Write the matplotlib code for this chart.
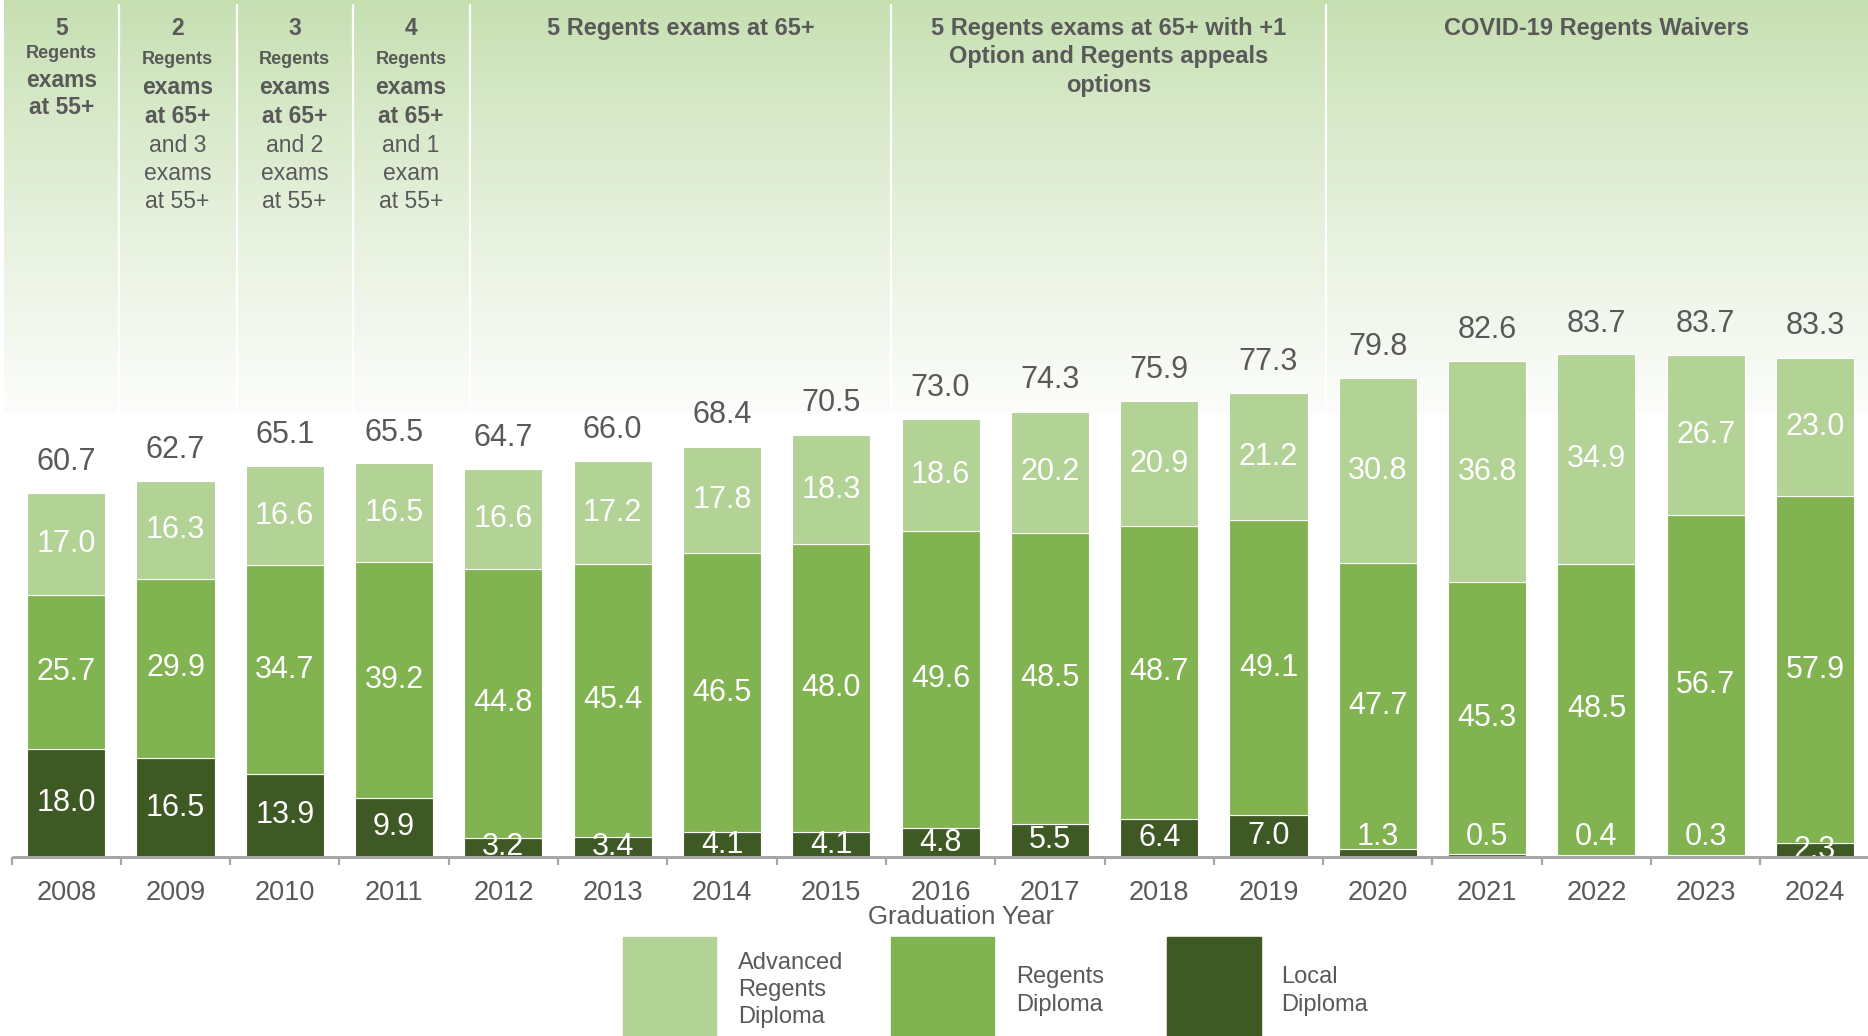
import numpy as np
import matplotlib.pyplot as plt
from matplotlib.patches import Rectangle
from matplotlib.colors import to_rgb

plt.rcParams["font.family"] = ["Liberation Sans", "DejaVu Sans"]

years = ["2008", "2009", "2010", "2011", "2012", "2013", "2014", "2015", "2016",
         "2017", "2018", "2019", "2020", "2021", "2022", "2023", "2024"]
local = [18.0, 16.5, 13.9, 9.9, 3.2, 3.4, 4.1, 4.1, 4.8, 5.5, 6.4, 7.0, 1.3, 0.5, 0.4, 0.3, 2.3]
regents = [25.7, 29.9, 34.7, 39.2, 44.8, 45.4, 46.5, 48.0, 49.6, 48.5, 48.7, 49.1, 47.7, 45.3, 48.5, 56.7, 57.9]
advanced = [17.0, 16.3, 16.6, 16.5, 16.6, 17.2, 17.8, 18.3, 18.6, 20.2, 20.9, 21.2, 30.8, 36.8, 34.9, 26.7, 23.0]
totals = [60.7, 62.7, 65.1, 65.5, 64.7, 66.0, 68.4, 70.5, 73.0, 74.3, 75.9, 77.3, 79.8, 82.6, 83.7, 83.7, 83.3]

series_names = ["Advanced\nRegents\nDiploma", "Regents\nDiploma", "Local\nDiploma"]

# requirement periods: (bold lines, regular lines)
small_headers = [
    (["5", "Regents", "exams", "at 55+"], []),
    (["2", "Regents", "exams", "at 65+"], ["and 3", "exams", "at 55+"]),
    (["3", "Regents", "exams", "at 65+"], ["and 2", "exams", "at 55+"]),
    (["4", "Regents", "exams", "at 65+"], ["and 1", "exam", "at 55+"]),
]
big_headers = [
    "5 Regents exams at 65+",
    "5 Regents exams at 65+ with +1\nOption and Regents appeals\noptions",
    "COVID-19 Regents Waivers",
]

C_ADV = "#b3d296"
C_REG = "#81b351"
C_LOC = "#3f5924"
GRAY = "#595959"

W, H = 1868, 1036
BASE = 857      # baseline, pixels from top
PPU = 6.0       # pixels per percent


def ypx(p):
    return (BASE - p) / PPU


fig = plt.figure(figsize=(W / 100, H / 100), dpi=100)
ax = fig.add_axes([0, (H - BASE) / H, 1, BASE / H])
for s in ax.spines.values():
    s.set_visible(False)
ax.set_yticks([])

# gradient panels behind the bars
edges = [-0.57, 0.48, 1.56, 2.62, 3.69, 7.55, 11.53, 16.48]
top_c = np.array(to_rgb("#c5dfb0"))
bot_c = np.array(to_rgb("#fcfdfb"))
t = np.linspace(0, 1, 256)[:, None] ** 0.85
grad = (top_c * (1 - t) + bot_c * t)[:, None, :]
grad = np.repeat(grad, 2, axis=1)
panel_lo = ypx(413)
ax.imshow(grad, extent=[edges[0], edges[-1], panel_lo, ypx(0)],
          aspect="auto", zorder=0, interpolation="bilinear")
ax.vlines(edges[1:-1], panel_lo, ypx(4), color="white", lw=1.6, zorder=1)
ax.set_xlim(-66.2 / 109.3, (W - 66.2) / 109.3)
ax.set_ylim(0, BASE / PPU)

x = np.arange(len(years))
loc = np.array(local)
reg = np.array(regents)
adv = np.array(advanced)
bw = 0.715
ax.bar(x, loc, bw, color=C_LOC, edgecolor="white", lw=0.8, zorder=2)
ax.bar(x, reg, bw, bottom=loc, color=C_REG, edgecolor="white", lw=0.8, zorder=2)
ax.bar(x, adv, bw, bottom=loc + reg, color=C_ADV, edgecolor="white", lw=0.8, zorder=2)

fs_val = 22
for i in range(len(years)):
    yl = loc[i] / 2 if loc[i] >= 2 else 3.4
    ax.text(x[i], yl, f"{loc[i]:.1f}", ha="center", va="center", color="white",
            fontsize=fs_val, zorder=3, clip_on=True)
    ax.text(x[i], loc[i] + reg[i] / 2, f"{reg[i]:.1f}", ha="center", va="center",
            color="white", fontsize=fs_val, zorder=3)
    ax.text(x[i], loc[i] + reg[i] + adv[i] / 2, f"{adv[i]:.1f}", ha="center",
            va="center", color="white", fontsize=fs_val, zorder=3)
    ax.text(x[i], totals[i] + 5.2, f"{totals[i]:.1f}", ha="center", va="center",
            color=GRAY, fontsize=fs_val, zorder=3)

# baseline and ticks
ax.hlines(0, -0.5, len(years) - 0.5, color="#a6a6a6", lw=2.2, zorder=4, clip_on=False)
ax.vlines(np.arange(len(years) + 1) - 0.5, -1.4, 0, color="#a6a6a6", lw=1.6,
          zorder=4, clip_on=False)
ax.set_xticks(x)
ax.set_xticklabels(years, fontsize=19.5, color=GRAY)
ax.tick_params(axis="x", length=0, pad=16.5)
fig.text(961 / W, 1 - 917 / H, "Graduation Year", ha="center", va="center",
         fontsize=18.5, color=GRAY)

# small period headers
bold_y = [[28, 53, 80, 107], [28, 59, 87, 116], [28, 59, 87, 116], [28, 59, 87, 116]]
reg_y = [145, 173, 201]
for k, (bl, rl) in enumerate(small_headers):
    cx = (edges[k] + edges[k + 1]) / 2
    for j, line in enumerate(bl):
        fs = 13 if line == "Regents" else 16.5
        ax.text(cx, ypx(bold_y[k][j]), line, ha="center", va="center",
                fontsize=fs, fontweight="bold", color=GRAY, zorder=3)
    for j, line in enumerate(rl):
        ax.text(cx, ypx(reg_y[j]), line, ha="center", va="center",
                fontsize=16.5, color=GRAY, zorder=3)

for k, txt in enumerate(big_headers):
    cx = (edges[k + 4] + edges[k + 5]) / 2
    ax.text(cx, ypx(17), txt, ha="center", va="top", fontsize=17,
            fontweight="bold", color=GRAY, linespacing=1.3, zorder=3)

# legend drawn by hand
leg_boxes = [(623, 716), (891, 994), (1167, 1261)]
leg_text_x = [738, 1016, 1281]
leg_text_y = [990, 991, 991]
for (x0, x1), tx, ty, col, name in zip(leg_boxes, leg_text_x, leg_text_y,
                                       [C_ADV, C_REG, C_LOC], series_names):
    fig.add_artist(Rectangle((x0 / W, 0), (x1 - x0) / W, (H - 937) / H,
                             transform=fig.transFigure, color=col))
    fig.text(tx / W, 1 - ty / H, name, ha="left", va="center", fontsize=17,
             color=GRAY, linespacing=1.3)

fig.savefig("out.png", dpi=100)
